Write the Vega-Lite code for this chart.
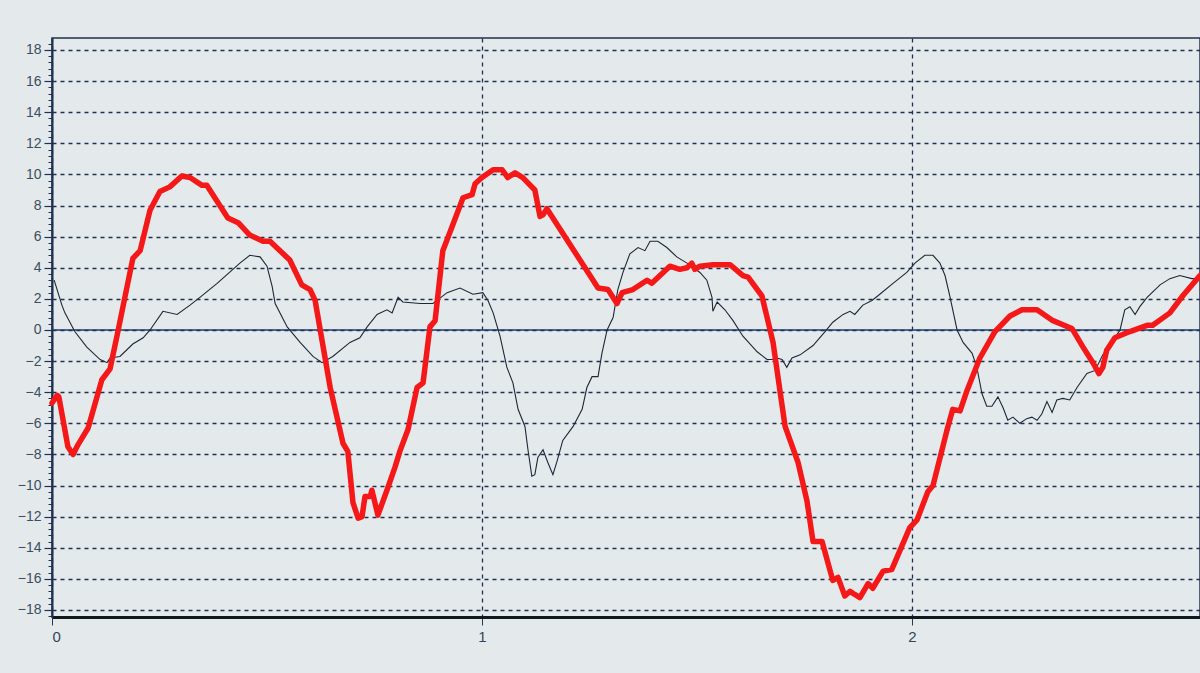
{
  "$schema": "https://vega.github.io/schema/vega-lite/v6.json",
  "autosize": "none",
  "padding": {"left": 52, "top": 38, "right": 0, "bottom": 56},
  "width": 1148,
  "height": 579,
  "background": "#e4e9eb",
  "config": {
    "view": {"stroke": "#1f3050", "strokeWidth": 1.5},
    "axis": {"labelFont": "Liberation Sans", "title": null},
    "axisX": {
      "labelFontSize": 15, "labelColor": "#34465a", "labelPadding": 4,
      "domainColor": "#101820", "domainWidth": 3,
      "tickColor": "#2a3a4a", "tickSize": 8, "tickWidth": 1,
      "grid": true, "gridDash": [4, 4], "gridColor": "#1f3050", "gridWidth": 1.3
    }
  },
  "datasets": {
    "bold": [
      {"t": 0.0, "v": -4.7}, {"t": 0.012, "v": -4.2}, {"t": 0.016, "v": -4.3}, {"t": 0.037, "v": -7.5},
      {"t": 0.049, "v": -8.0}, {"t": 0.06, "v": -7.4}, {"t": 0.084, "v": -6.3}, {"t": 0.116, "v": -3.2},
      {"t": 0.135, "v": -2.5}, {"t": 0.151, "v": -0.4}, {"t": 0.188, "v": 4.6}, {"t": 0.205, "v": 5.1},
      {"t": 0.228, "v": 7.7}, {"t": 0.251, "v": 8.9}, {"t": 0.274, "v": 9.2}, {"t": 0.302, "v": 9.9},
      {"t": 0.321, "v": 9.8}, {"t": 0.349, "v": 9.3}, {"t": 0.36, "v": 9.3}, {"t": 0.409, "v": 7.2},
      {"t": 0.433, "v": 6.9}, {"t": 0.46, "v": 6.1}, {"t": 0.491, "v": 5.7}, {"t": 0.507, "v": 5.7},
      {"t": 0.553, "v": 4.5}, {"t": 0.581, "v": 2.9}, {"t": 0.6, "v": 2.6}, {"t": 0.612, "v": 1.9},
      {"t": 0.647, "v": -3.7}, {"t": 0.677, "v": -7.3}, {"t": 0.688, "v": -7.8}, {"t": 0.7, "v": -11.1},
      {"t": 0.712, "v": -12.1}, {"t": 0.721, "v": -12.0}, {"t": 0.728, "v": -10.7}, {"t": 0.74, "v": -10.7},
      {"t": 0.744, "v": -10.3}, {"t": 0.758, "v": -11.9}, {"t": 0.779, "v": -10.3}, {"t": 0.798, "v": -8.8},
      {"t": 0.809, "v": -7.8}, {"t": 0.828, "v": -6.4}, {"t": 0.849, "v": -3.7}, {"t": 0.863, "v": -3.4},
      {"t": 0.879, "v": 0.2}, {"t": 0.891, "v": 0.6}, {"t": 0.909, "v": 5.1}, {"t": 0.93, "v": 6.6},
      {"t": 0.956, "v": 8.5}, {"t": 0.977, "v": 8.7}, {"t": 0.984, "v": 9.4}, {"t": 1.0, "v": 9.8},
      {"t": 1.026, "v": 10.3}, {"t": 1.047, "v": 10.3}, {"t": 1.06, "v": 9.8}, {"t": 1.077, "v": 10.1},
      {"t": 1.095, "v": 9.8}, {"t": 1.123, "v": 9.0}, {"t": 1.135, "v": 7.3}, {"t": 1.142, "v": 7.4},
      {"t": 1.151, "v": 7.8}, {"t": 1.27, "v": 2.7}, {"t": 1.293, "v": 2.6}, {"t": 1.314, "v": 1.7},
      {"t": 1.326, "v": 2.4}, {"t": 1.351, "v": 2.6}, {"t": 1.384, "v": 3.2}, {"t": 1.395, "v": 3.0},
      {"t": 1.437, "v": 4.1}, {"t": 1.46, "v": 3.9}, {"t": 1.477, "v": 4.0}, {"t": 1.488, "v": 4.3},
      {"t": 1.495, "v": 3.9}, {"t": 1.507, "v": 4.1}, {"t": 1.537, "v": 4.2}, {"t": 1.577, "v": 4.2},
      {"t": 1.607, "v": 3.5}, {"t": 1.619, "v": 3.4}, {"t": 1.651, "v": 2.2}, {"t": 1.677, "v": -0.8},
      {"t": 1.693, "v": -3.9}, {"t": 1.705, "v": -6.2}, {"t": 1.735, "v": -8.5}, {"t": 1.756, "v": -11.0},
      {"t": 1.77, "v": -13.6}, {"t": 1.791, "v": -13.6}, {"t": 1.816, "v": -16.1}, {"t": 1.828, "v": -15.9},
      {"t": 1.844, "v": -17.1}, {"t": 1.856, "v": -16.8}, {"t": 1.867, "v": -17.0}, {"t": 1.879, "v": -17.2},
      {"t": 1.898, "v": -16.3}, {"t": 1.909, "v": -16.6}, {"t": 1.933, "v": -15.5}, {"t": 1.953, "v": -15.4},
      {"t": 1.995, "v": -12.7}, {"t": 2.012, "v": -12.2}, {"t": 2.037, "v": -10.4}, {"t": 2.049, "v": -10.0},
      {"t": 2.081, "v": -6.5}, {"t": 2.095, "v": -5.1}, {"t": 2.112, "v": -5.2}, {"t": 2.128, "v": -3.9},
      {"t": 2.158, "v": -1.8}, {"t": 2.193, "v": -0.1}, {"t": 2.228, "v": 0.9}, {"t": 2.256, "v": 1.3},
      {"t": 2.291, "v": 1.3}, {"t": 2.328, "v": 0.6}, {"t": 2.372, "v": 0.1}, {"t": 2.398, "v": -1.1},
      {"t": 2.421, "v": -2.1}, {"t": 2.435, "v": -2.8}, {"t": 2.444, "v": -2.4}, {"t": 2.453, "v": -1.3},
      {"t": 2.472, "v": -0.5}, {"t": 2.507, "v": -0.1}, {"t": 2.547, "v": 0.3}, {"t": 2.56, "v": 0.3},
      {"t": 2.6, "v": 1.1}, {"t": 2.63, "v": 2.2}, {"t": 2.67, "v": 3.5}
    ],
    "fine": [
      {"t": 0.005, "v": 3.2}, {"t": 0.023, "v": 1.6}, {"t": 0.03, "v": 1.1}, {"t": 0.053, "v": -0.1},
      {"t": 0.081, "v": -1.1}, {"t": 0.112, "v": -1.9}, {"t": 0.128, "v": -2.1}, {"t": 0.135, "v": -1.8},
      {"t": 0.158, "v": -1.7}, {"t": 0.188, "v": -0.9}, {"t": 0.212, "v": -0.5}, {"t": 0.228, "v": 0.0},
      {"t": 0.258, "v": 1.2}, {"t": 0.291, "v": 1.0}, {"t": 0.321, "v": 1.6}, {"t": 0.344, "v": 2.1},
      {"t": 0.384, "v": 3.0}, {"t": 0.437, "v": 4.3}, {"t": 0.46, "v": 4.8}, {"t": 0.484, "v": 4.7},
      {"t": 0.5, "v": 4.1}, {"t": 0.512, "v": 2.8}, {"t": 0.519, "v": 1.7}, {"t": 0.547, "v": 0.2},
      {"t": 0.577, "v": -0.8}, {"t": 0.607, "v": -1.7}, {"t": 0.628, "v": -2.1}, {"t": 0.653, "v": -1.7},
      {"t": 0.693, "v": -0.8}, {"t": 0.716, "v": -0.5}, {"t": 0.733, "v": 0.2}, {"t": 0.756, "v": 1.0},
      {"t": 0.779, "v": 1.3}, {"t": 0.791, "v": 1.1}, {"t": 0.805, "v": 2.1}, {"t": 0.816, "v": 1.8},
      {"t": 0.856, "v": 1.7}, {"t": 0.886, "v": 1.7}, {"t": 0.919, "v": 2.4}, {"t": 0.949, "v": 2.7},
      {"t": 0.979, "v": 2.3}, {"t": 1.002, "v": 2.4}, {"t": 1.014, "v": 1.9}, {"t": 1.026, "v": 1.1},
      {"t": 1.042, "v": -0.4}, {"t": 1.058, "v": -2.4}, {"t": 1.072, "v": -3.4}, {"t": 1.084, "v": -5.1},
      {"t": 1.1, "v": -6.2}, {"t": 1.107, "v": -7.7}, {"t": 1.116, "v": -9.4}, {"t": 1.123, "v": -9.3},
      {"t": 1.13, "v": -8.2}, {"t": 1.142, "v": -7.7}, {"t": 1.153, "v": -8.5}, {"t": 1.165, "v": -9.3},
      {"t": 1.174, "v": -8.5}, {"t": 1.188, "v": -7.1}, {"t": 1.212, "v": -6.2}, {"t": 1.233, "v": -5.1},
      {"t": 1.244, "v": -3.7}, {"t": 1.256, "v": -3.0}, {"t": 1.27, "v": -3.0}, {"t": 1.279, "v": -1.5},
      {"t": 1.291, "v": 0.0}, {"t": 1.305, "v": 0.8}, {"t": 1.316, "v": 2.6}, {"t": 1.328, "v": 3.7},
      {"t": 1.344, "v": 4.9}, {"t": 1.363, "v": 5.3}, {"t": 1.379, "v": 5.1}, {"t": 1.391, "v": 5.7},
      {"t": 1.409, "v": 5.7}, {"t": 1.43, "v": 5.3}, {"t": 1.453, "v": 4.7}, {"t": 1.477, "v": 4.3},
      {"t": 1.507, "v": 3.7}, {"t": 1.523, "v": 3.2}, {"t": 1.535, "v": 2.1}, {"t": 1.537, "v": 1.2},
      {"t": 1.547, "v": 1.8}, {"t": 1.565, "v": 1.3}, {"t": 1.584, "v": 0.6}, {"t": 1.607, "v": -0.4},
      {"t": 1.64, "v": -1.4}, {"t": 1.663, "v": -1.9}, {"t": 1.674, "v": -1.9}, {"t": 1.686, "v": -1.8},
      {"t": 1.698, "v": -1.9}, {"t": 1.709, "v": -2.4}, {"t": 1.721, "v": -1.8}, {"t": 1.74, "v": -1.6},
      {"t": 1.77, "v": -1.0}, {"t": 1.798, "v": -0.1}, {"t": 1.816, "v": 0.5}, {"t": 1.84, "v": 1.0},
      {"t": 1.856, "v": 1.2}, {"t": 1.867, "v": 1.0}, {"t": 1.886, "v": 1.6}, {"t": 1.907, "v": 1.9},
      {"t": 1.921, "v": 2.2}, {"t": 1.956, "v": 3.0}, {"t": 1.988, "v": 3.7}, {"t": 2.007, "v": 4.3},
      {"t": 2.03, "v": 4.8}, {"t": 2.049, "v": 4.8}, {"t": 2.065, "v": 4.3}, {"t": 2.077, "v": 3.5},
      {"t": 2.088, "v": 2.2}, {"t": 2.105, "v": 0.0}, {"t": 2.119, "v": -0.8}, {"t": 2.14, "v": -1.5},
      {"t": 2.151, "v": -2.4}, {"t": 2.163, "v": -4.1}, {"t": 2.174, "v": -4.9}, {"t": 2.186, "v": -4.9},
      {"t": 2.2, "v": -4.3}, {"t": 2.212, "v": -5.0}, {"t": 2.223, "v": -5.8}, {"t": 2.235, "v": -5.6},
      {"t": 2.251, "v": -6.0}, {"t": 2.267, "v": -5.7}, {"t": 2.279, "v": -5.6}, {"t": 2.291, "v": -5.8},
      {"t": 2.302, "v": -5.4}, {"t": 2.314, "v": -4.6}, {"t": 2.326, "v": -5.3}, {"t": 2.337, "v": -4.5},
      {"t": 2.351, "v": -4.4}, {"t": 2.367, "v": -4.5}, {"t": 2.384, "v": -3.7}, {"t": 2.407, "v": -2.8},
      {"t": 2.426, "v": -2.6}, {"t": 2.444, "v": -1.6}, {"t": 2.46, "v": -1.0}, {"t": 2.484, "v": 0.0},
      {"t": 2.495, "v": 1.3}, {"t": 2.507, "v": 1.5}, {"t": 2.519, "v": 1.0}, {"t": 2.53, "v": 1.5},
      {"t": 2.547, "v": 2.1}, {"t": 2.577, "v": 2.9}, {"t": 2.6, "v": 3.3}, {"t": 2.623, "v": 3.5},
      {"t": 2.651, "v": 3.3}, {"t": 2.67, "v": 3.3}
    ]
  },
  "resolve": {"axis": {"y": "independent"}},
  "layer": [
    {
      "data": {"values": [{"z": 0}]},
      "mark": {"type": "rule", "color": "#1d3a6e", "strokeWidth": 1.6},
      "encoding": {
        "y": {"field": "z", "type": "quantitative", "scale": {"domain": [-18.45, 18.77], "nice": false, "zero": false}, "axis": null}
      }
    },
    {
      "data": {"name": "fine"},
      "mark": {"type": "line", "color": "#1c2838", "strokeWidth": 1.1},
      "encoding": {
        "x": {
          "field": "t", "type": "quantitative",
          "scale": {"domain": [0, 2.67], "nice": false, "zero": false},
          "axis": {"values": [0, 1, 2], "format": "d", "title": null, "labelFontSize": 15}
        },
        "y": {
          "field": "v", "type": "quantitative",
          "scale": {"domain": [-18.45, 18.77], "nice": false, "zero": false},
          "axis": {
            "values": [-18, -16, -14, -12, -10, -8, -6, -4, -2, 0, 2, 4, 6, 8, 10, 12, 14, 16, 18],
            "title": null, "orient": "left",
            "grid": true, "gridDash": [4, 4], "gridColor": "#1f3050", "gridWidth": 1.3,
            "domainColor": "#1f3050", "domainWidth": 2,
            "tickColor": "#1f3050", "tickSize": 8, "tickWidth": 1.2,
            "labelFontSize": 14, "labelColor": "#3c4d60", "labelPadding": 3
          }
        }
      }
    },
    {
      "data": {"name": "bold"},
      "mark": {"type": "line", "color": "#f51818", "strokeWidth": 5.5, "strokeJoin": "round", "strokeCap": "round"},
      "encoding": {
        "x": {"field": "t", "type": "quantitative", "axis": {"values": [0, 1, 2], "format": "d", "title": null, "labelFontSize": 15}},
        "y": {
          "field": "v", "type": "quantitative",
          "axis": {
            "values": [-18.4, -18, -17.6, -17.2, -16.8, -16.4, -16, -15.6, -15.2, -14.8, -14.4, -14, -13.6, -13.2, -12.8, -12.4, -12, -11.6, -11.2, -10.8, -10.4, -10, -9.6, -9.2, -8.8, -8.4, -8, -7.6, -7.2, -6.8, -6.4, -6, -5.6, -5.2, -4.8, -4.4, -4, -3.6, -3.2, -2.8, -2.4, -2, -1.6, -1.2, -0.8, -0.4, 0, 0.4, 0.8, 1.2, 1.6, 2, 2.4, 2.8, 3.2, 3.6, 4, 4.4, 4.8, 5.2, 5.6, 6, 6.4, 6.8, 7.2, 7.6, 8, 8.4, 8.8, 9.2, 9.6, 10, 10.4, 10.8, 11.2, 11.6, 12, 12.4, 12.8, 13.2, 13.6, 14, 14.4, 14.8, 15.2, 15.6, 16, 16.4, 16.8, 17.2, 17.6, 18, 18.4],
            "title": null, "orient": "left", "labels": false, "grid": false, "domain": false,
            "tickColor": "#1f3050", "tickSize": 4, "tickWidth": 1
          }
        }
      }
    }
  ]
}
